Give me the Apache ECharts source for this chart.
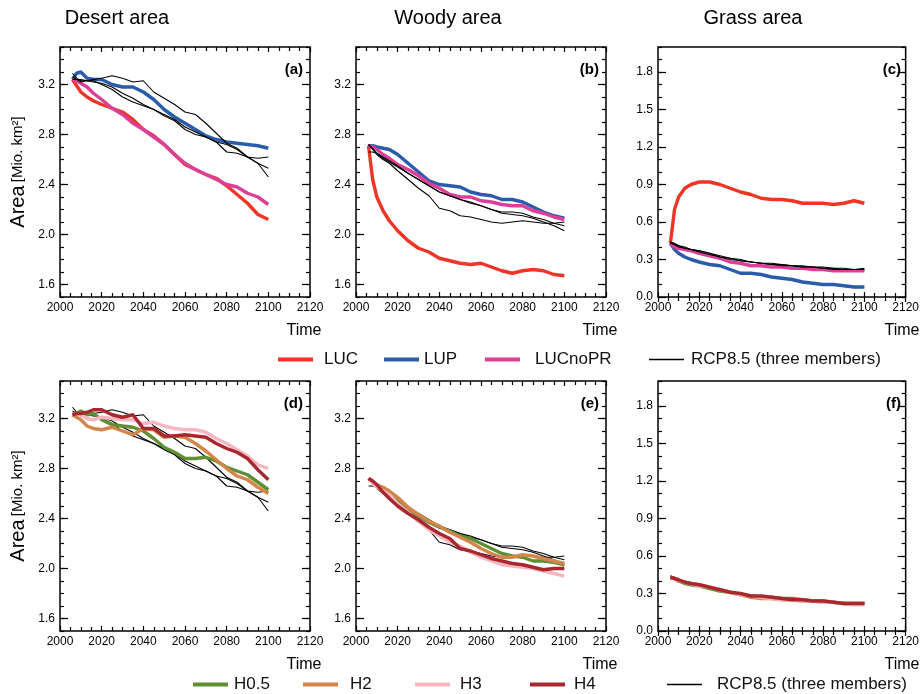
<!DOCTYPE html>
<html>
<head>
<meta charset="utf-8">
<script src="https://cdn.jsdelivr.net/npm/echarts@6.0.0/dist/echarts.min.js"></script>
<style>
  html, body { margin: 0; padding: 0; background: #fff; }
  #chart { width: 922px; height: 694px; }
</style>
</head>
<body>
<div id="chart"></div>
<script>
// sample years shared by every curve
const years = [2006, 2008, 2010, 2013, 2016, 2020, 2025, 2030, 2035, 2040, 2045,
               2050, 2055, 2060, 2065, 2070, 2075, 2080, 2085, 2090, 2095, 2100];

// (a) desert area
const desertLUC     = [3.24, 3.19, 3.14, 3.10, 3.07, 3.04, 3.01, 2.98, 2.92, 2.84, 2.79, 2.72, 2.64, 2.56, 2.52, 2.48, 2.45, 2.39, 2.32, 2.25, 2.16, 2.12];
const desertLUP     = [3.24, 3.29, 3.30, 3.25, 3.24, 3.24, 3.20, 3.18, 3.18, 3.14, 3.08, 3.00, 2.94, 2.89, 2.84, 2.79, 2.76, 2.74, 2.73, 2.72, 2.71, 2.69];
const desertLUCnoPR = [3.24, 3.23, 3.21, 3.18, 3.13, 3.08, 3.01, 2.96, 2.89, 2.84, 2.78, 2.72, 2.64, 2.57, 2.52, 2.48, 2.44, 2.40, 2.38, 2.33, 2.30, 2.24];
const desertRCP1    = [3.29, 3.25, 3.23, 3.23, 3.24, 3.25, 3.27, 3.25, 3.22, 3.23, 3.14, 3.09, 3.04, 2.98, 2.96, 2.89, 2.81, 2.73, 2.69, 2.62, 2.57, 2.46];
const desertRCP2    = [3.24, 3.24, 3.24, 3.23, 3.22, 3.21, 3.18, 3.13, 3.09, 3.04, 3.00, 2.96, 2.92, 2.86, 2.82, 2.78, 2.74, 2.72, 2.68, 2.62, 2.61, 2.62];
const desertRCP3    = [3.26, 3.24, 3.22, 3.23, 3.23, 3.20, 3.16, 3.10, 3.06, 3.03, 3.00, 2.95, 2.91, 2.84, 2.80, 2.78, 2.74, 2.66, 2.65, 2.62, 2.57, 2.53];

// (b) woody area
const woodyLUC     = [2.71, 2.44, 2.30, 2.19, 2.11, 2.03, 1.95, 1.89, 1.86, 1.81, 1.79, 1.77, 1.76, 1.77, 1.74, 1.71, 1.69, 1.71, 1.72, 1.71, 1.68, 1.67];
const woodyLUP     = [2.71, 2.71, 2.70, 2.69, 2.68, 2.64, 2.57, 2.50, 2.43, 2.40, 2.39, 2.38, 2.34, 2.32, 2.31, 2.28, 2.28, 2.26, 2.22, 2.18, 2.15, 2.13];
const woodyLUCnoPR = [2.71, 2.70, 2.68, 2.64, 2.61, 2.56, 2.52, 2.47, 2.41, 2.37, 2.32, 2.30, 2.30, 2.27, 2.26, 2.24, 2.23, 2.23, 2.19, 2.17, 2.14, 2.12];
const woodyRCP1    = [2.72, 2.68, 2.64, 2.60, 2.57, 2.51, 2.44, 2.37, 2.31, 2.21, 2.19, 2.15, 2.14, 2.12, 2.10, 2.09, 2.10, 2.11, 2.10, 2.09, 2.09, 2.10];
const woodyRCP2    = [2.72, 2.69, 2.65, 2.61, 2.58, 2.54, 2.49, 2.44, 2.39, 2.34, 2.31, 2.28, 2.26, 2.23, 2.20, 2.17, 2.16, 2.15, 2.13, 2.10, 2.07, 2.03];
const woodyRCP3    = [2.66, 2.66, 2.65, 2.62, 2.59, 2.55, 2.49, 2.44, 2.39, 2.34, 2.31, 2.28, 2.25, 2.23, 2.20, 2.18, 2.18, 2.17, 2.14, 2.12, 2.09, 2.07];

// (c) grass area
const grassLUC     = [0.43, 0.70, 0.80, 0.87, 0.90, 0.92, 0.92, 0.90, 0.87, 0.84, 0.82, 0.79, 0.78, 0.78, 0.77, 0.75, 0.75, 0.75, 0.74, 0.75, 0.77, 0.75];
const grassLUP     = [0.43, 0.38, 0.35, 0.32, 0.30, 0.28, 0.26, 0.25, 0.22, 0.19, 0.19, 0.18, 0.16, 0.15, 0.14, 0.12, 0.11, 0.10, 0.10, 0.09, 0.08, 0.08];
const grassLUCnoPR = [0.42, 0.40, 0.39, 0.38, 0.37, 0.35, 0.33, 0.31, 0.28, 0.27, 0.25, 0.25, 0.24, 0.24, 0.23, 0.23, 0.22, 0.22, 0.21, 0.21, 0.21, 0.21];
const grassRCP1    = [0.44, 0.42, 0.40, 0.39, 0.38, 0.37, 0.35, 0.32, 0.30, 0.29, 0.28, 0.27, 0.26, 0.25, 0.25, 0.24, 0.24, 0.24, 0.23, 0.23, 0.22, 0.22];
const grassRCP2    = [0.43, 0.42, 0.41, 0.39, 0.38, 0.36, 0.34, 0.32, 0.31, 0.29, 0.28, 0.27, 0.26, 0.26, 0.25, 0.24, 0.24, 0.23, 0.23, 0.22, 0.22, 0.23];
const grassRCP3    = [0.44, 0.43, 0.41, 0.40, 0.38, 0.37, 0.35, 0.33, 0.31, 0.30, 0.28, 0.27, 0.27, 0.26, 0.25, 0.25, 0.24, 0.23, 0.22, 0.22, 0.22, 0.22];

// (d) desert area, harvest experiments
const desertH05 = [3.23, 3.24, 3.26, 3.23, 3.24, 3.19, 3.15, 3.14, 3.13, 3.10, 3.04, 2.97, 2.93, 2.88, 2.88, 2.89, 2.86, 2.81, 2.78, 2.75, 2.69, 2.63];
const desertH2  = [3.23, 3.21, 3.19, 3.14, 3.12, 3.11, 3.13, 3.10, 3.07, 3.12, 3.11, 3.05, 3.06, 3.05, 3.00, 2.94, 2.87, 2.80, 2.74, 2.71, 2.65, 2.60];
const desertH3  = [3.23, 3.24, 3.23, 3.20, 3.19, 3.21, 3.20, 3.19, 3.19, 3.16, 3.17, 3.14, 3.12, 3.11, 3.11, 3.09, 3.04, 3.00, 2.95, 2.90, 2.83, 2.80];
const desertH4  = [3.23, 3.24, 3.24, 3.25, 3.27, 3.27, 3.23, 3.21, 3.23, 3.12, 3.12, 3.06, 3.06, 3.07, 3.06, 3.05, 3.00, 2.96, 2.93, 2.88, 2.79, 2.71];

// (e) woody area, harvest experiments
const woodyH05 = [2.72, 2.69, 2.66, 2.62, 2.59, 2.54, 2.48, 2.42, 2.37, 2.33, 2.30, 2.26, 2.24, 2.20, 2.16, 2.12, 2.10, 2.09, 2.06, 2.06, 2.05, 2.03];
const woodyH2  = [2.72, 2.69, 2.67, 2.65, 2.62, 2.57, 2.49, 2.43, 2.38, 2.34, 2.29, 2.25, 2.21, 2.16, 2.12, 2.09, 2.09, 2.11, 2.10, 2.08, 2.06, 2.04];
const woodyH3  = [2.72, 2.68, 2.65, 2.62, 2.59, 2.52, 2.45, 2.38, 2.31, 2.26, 2.21, 2.18, 2.13, 2.09, 2.06, 2.03, 2.02, 2.01, 2.00, 1.98, 1.96, 1.94];
const woodyH4  = [2.72, 2.70, 2.67, 2.61, 2.56, 2.50, 2.44, 2.39, 2.33, 2.28, 2.24, 2.16, 2.14, 2.11, 2.08, 2.06, 2.04, 2.03, 2.01, 1.99, 2.00, 2.00];

// (f) grass area, harvest experiments
const grassH05 = [0.43, 0.42, 0.40, 0.38, 0.37, 0.36, 0.34, 0.32, 0.31, 0.29, 0.28, 0.27, 0.27, 0.26, 0.26, 0.25, 0.24, 0.24, 0.23, 0.22, 0.22, 0.22];
const grassH2  = [0.43, 0.42, 0.40, 0.39, 0.38, 0.37, 0.35, 0.33, 0.31, 0.29, 0.27, 0.26, 0.26, 0.25, 0.25, 0.24, 0.24, 0.23, 0.23, 0.22, 0.22, 0.22];
const grassH3  = [0.43, 0.42, 0.41, 0.39, 0.38, 0.36, 0.35, 0.33, 0.31, 0.29, 0.28, 0.27, 0.26, 0.25, 0.25, 0.24, 0.24, 0.23, 0.23, 0.22, 0.21, 0.21];
const grassH4  = [0.43, 0.42, 0.41, 0.39, 0.38, 0.37, 0.35, 0.33, 0.31, 0.30, 0.28, 0.28, 0.27, 0.26, 0.25, 0.25, 0.24, 0.24, 0.23, 0.22, 0.22, 0.22];

// tick labels
const areaTicks  = [1.6, 2.0, 2.4, 2.8, 3.2];
const grassTicks = [0.0, 0.3, 0.6, 0.9, 1.2, 1.5, 1.8];
const columnTitles = ['Desert area', 'Woody area', 'Grass area'];
const panelLabels = ['(a)', '(b)', '(c)', '(d)', '(e)', '(f)'];

const RCP = 'RCP8.5 (three members)';
const colors = {
  LUC: '#ee3526', LUP: '#2b5cab', LUCnoPR: '#dc3f98',
  'H0.5': '#5e8f33', H2: '#d4854a', H3: '#f6b7c2', H4: '#a9282f', RCP: '#000'
};

const font = 'Liberation Sans, Arial, Helvetica, sans-serif';
const lefts = [60, 356, 658];
const tops = [47, 381];
const size = 250;

const panels = [
  { yMin: 1.5, yMax: 3.5, ticks: areaTicks, curves: [['LUC', desertLUC], ['LUP', desertLUP], ['LUCnoPR', desertLUCnoPR]], rcp: [desertRCP1, desertRCP2, desertRCP3] },
  { yMin: 1.5, yMax: 3.5, ticks: areaTicks, curves: [['LUC', woodyLUC], ['LUP', woodyLUP], ['LUCnoPR', woodyLUCnoPR]], rcp: [woodyRCP1, woodyRCP2, woodyRCP3] },
  { yMin: 0, yMax: 2.0, ticks: grassTicks, curves: [['LUC', grassLUC], ['LUP', grassLUP], ['LUCnoPR', grassLUCnoPR]], rcp: [grassRCP1, grassRCP2, grassRCP3] },
  { yMin: 1.5, yMax: 3.5, ticks: areaTicks, curves: [['H0.5', desertH05], ['H2', desertH2], ['H3', desertH3], ['H4', desertH4]], rcp: [desertRCP1, desertRCP2, desertRCP3] },
  { yMin: 1.5, yMax: 3.5, ticks: areaTicks, curves: [['H0.5', woodyH05], ['H2', woodyH2], ['H3', woodyH3], ['H4', woodyH4]], rcp: [woodyRCP1, woodyRCP2, woodyRCP3] },
  { yMin: 0, yMax: 2.0, ticks: grassTicks, curves: [['H0.5', grassH05], ['H2', grassH2], ['H3', grassH3], ['H4', grassH4]], rcp: [grassRCP1, grassRCP2, grassRCP3] }
];

const pairs = arr => years.map((y, i) => [y, arr[i]]);
const tickLine = { color: '#000', width: 1.2 };

let grid = [], xAxis = [], yAxis = [], series = [], graphic = [];

panels.forEach((p, g) => {
  const left = lefts[g % 3], top = tops[Math.floor(g / 3)];
  grid.push({ left: left, top: top, width: size, height: size, show: true, borderColor: '#000', borderWidth: 1.5, backgroundColor: 'transparent' });

  // x axes: bottom with labels, top mirror
  ['bottom', 'top'].forEach(pos => {
    xAxis.push({
      type: 'value', gridIndex: g, position: pos, min: 2000, max: 2120, interval: 20,
      axisLine: { show: false }, splitLine: { show: false },
      axisTick: { show: true, inside: true, length: 5, lineStyle: tickLine },
      minorTick: { show: true, splitNumber: 4, length: 4, lineStyle: tickLine },
      axisLabel: { show: pos === 'bottom', fontSize: 12, color: '#000', margin: 5, fontFamily: font, formatter: v => String(v) }
    });
  });

  // y axes: minor ticks every 0.1 and major ticks, on both sides
  ['left', 'right'].forEach(pos => {
    const minor = {
      type: 'value', gridIndex: g, position: pos, min: p.yMin, max: p.yMax, interval: 0.1,
      axisLine: { show: false }, splitLine: { show: false },
      axisTick: { show: true, inside: true, length: 4, lineStyle: tickLine },
      axisLabel: {
        show: pos === 'left', customValues: p.ticks, fontSize: 12, color: '#000', margin: 5, fontFamily: font,
        formatter: v => Number(v).toFixed(1)
      }
    };
    if (pos === 'left' && (g === 0 || g === 3)) {
      minor.name = '{big|Area} {small|[Mio. km²]}';
      minor.nameLocation = 'middle';
      minor.nameGap = 32;
      minor.nameTextStyle = {
        rich: {
          big: { fontSize: 20, fontFamily: font, color: '#000' },
          small: { fontSize: 15, fontFamily: font, color: '#000' }
        }
      };
    }
    yAxis.push(minor);
    yAxis.push({
      type: 'value', gridIndex: g, position: pos, min: p.yMin, max: p.yMax,
      axisLine: { show: false }, splitLine: { show: false },
      axisTick: { show: true, inside: true, length: 8, customValues: p.ticks, lineStyle: tickLine },
      axisLabel: { show: false }
    });
  });

  const topRow = g < 3;
  const rcpSeries = p.rcp.map(arr => ({
    name: RCP, type: 'line', xAxisIndex: 2 * g, yAxisIndex: 4 * g, data: pairs(arr),
    showSymbol: false, lineStyle: { color: colors.RCP, width: 1.1 }, itemStyle: { color: colors.RCP },
    z: topRow ? 4 : 2
  }));
  const colored = p.curves.map(([name, arr]) => ({
    name: name, type: 'line', xAxisIndex: 2 * g, yAxisIndex: 4 * g, data: pairs(arr),
    showSymbol: false, lineStyle: { color: colors[name], width: 3.4 }, itemStyle: { color: colors[name] },
    z: 3
  }));
  series.push(...(topRow ? colored.concat(rcpSeries) : rcpSeries.concat(colored)));

  graphic.push({
    type: 'text', x: left + size - 7, y: top + 23,
    style: { text: panelLabels[g], font: 'bold 15px ' + font, fill: '#000', align: 'right', verticalAlign: 'middle' }
  });
  graphic.push({
    type: 'text', x: left + size - 6, y: top + size + 34,
    style: { text: 'Time', font: '16px ' + font, fill: '#000', align: 'center', verticalAlign: 'middle' }
  });
});

const titleX = [117, 448, 753];
columnTitles.forEach((t, i) => {
  graphic.push({
    type: 'text', x: titleX[i], y: 18,
    style: { text: t, font: '20px ' + font, fill: '#000', align: 'center', verticalAlign: 'middle' }
  });
});

// one legend per item so each can sit where the original puts it
const legendItems = [
  ['LUC', 278, 351, 4, 6], ['LUP', 384, 351, 4, 0], ['LUCnoPR', 485, 351, 4, 10], [RCP, 649, 351, 1.5, 2],
  ['H0.5', 193, 676, 4, 1], ['H2', 303, 676, 4, 7], ['H3', 415, 676, 4, 5], ['H4', 530, 676, 4, 4], [RCP, 667, 676, 1.5, 10]
];
const legend = legendItems.map(([name, x, y, h, pad]) => ({
  data: [name], left: x, top: y, icon: 'rect', itemWidth: 35, itemHeight: h,
  selectedMode: false, padding: 0,
  textStyle: { fontSize: 17, color: '#111', fontFamily: font, padding: [0, 0, 0, pad] }
}));

const chart = echarts.init(document.getElementById('chart'));
chart.setOption({
  animation: false,
  backgroundColor: '#fff',
  grid: grid, xAxis: xAxis, yAxis: yAxis, series: series, legend: legend, graphic: graphic
});
</script>
</body>
</html>
